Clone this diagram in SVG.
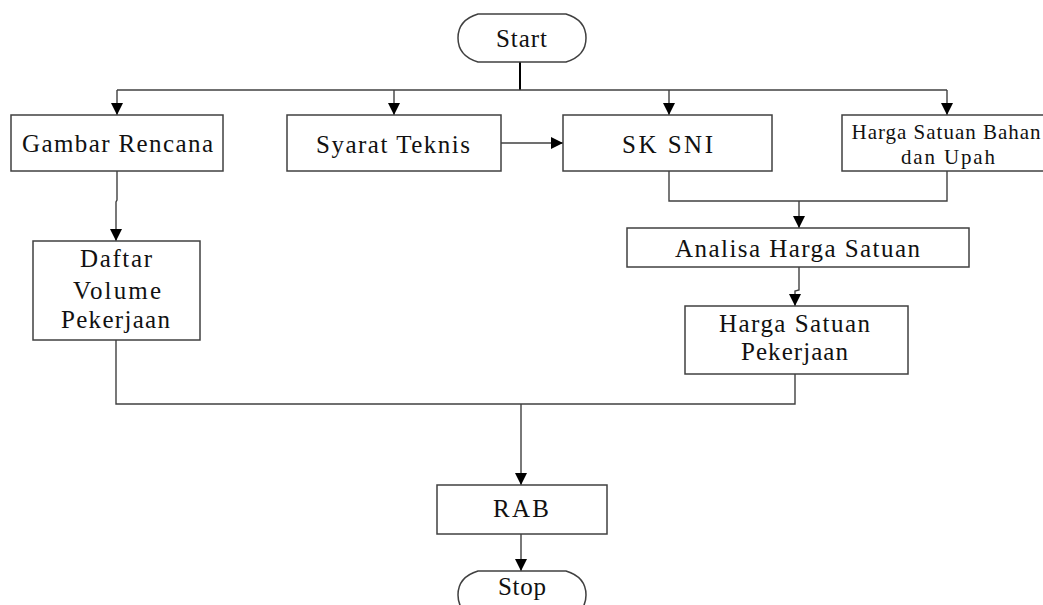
<svg xmlns="http://www.w3.org/2000/svg" width="1043" height="605" viewBox="0 0 1043 605">
<style>
.box{fill:#fff;stroke:#404040;stroke-width:1.5}
.t{font-family:"Liberation Serif","Times New Roman",serif;font-size:25px;fill:#111;text-anchor:middle}
.s{font-size:21px}
.c{fill:none;stroke:#404040;stroke-width:1.4}
</style>
<defs>
<marker id="ah" markerUnits="userSpaceOnUse" markerWidth="12" markerHeight="12" refX="12" refY="6" orient="auto">
<path d="M0,0 L12,6 L0,12 Z" fill="#000"/>
</marker>
</defs>
<rect width="1043" height="605" fill="#fff"/>
<g id="connectors">
<line class="c" x1="520" y1="62" x2="520" y2="90" style="stroke:#000;stroke-width:2"/>
<line class="c" x1="117" y1="90" x2="947" y2="90"/>
<line class="c" x1="117" y1="90" x2="117" y2="115" marker-end="url(#ah)"/>
<line class="c" x1="394" y1="90" x2="394" y2="115" marker-end="url(#ah)"/>
<line class="c" x1="669" y1="90" x2="669" y2="115" marker-end="url(#ah)"/>
<line class="c" x1="947" y1="90" x2="947" y2="115" marker-end="url(#ah)"/>
<line class="c" x1="501" y1="143" x2="563" y2="143" marker-end="url(#ah)"/>
<polyline class="c" points="117,171 117,200 116,202 116,241" marker-end="url(#ah)"/>
<polyline class="c" points="669,171 669,201 947,201 947,171"/>
<line class="c" x1="799" y1="201" x2="799" y2="228" marker-end="url(#ah)"/>
<polyline class="c" points="799,267 799,290 795,291 795,306" marker-end="url(#ah)"/>
<polyline class="c" points="116,340 116,404 795,404 795,374"/>
<line class="c" x1="521" y1="404" x2="521" y2="485" marker-end="url(#ah)"/>
<line class="c" x1="521" y1="534" x2="521" y2="571" marker-end="url(#ah)"/>
</g>
<g id="start">
<path class="box" d="M478,14 L566,14 Q586,20 586,38 Q586,56 566,62 L478,62 Q458,56 458,38 Q458,20 478,14 Z"/>
<text class="t" x="521.5" y="47" textLength="51" lengthAdjust="spacing">Start</text>
</g>
<g id="gambar-rencana">
<rect class="box" x="11" y="115" width="212" height="56"/>
<text class="t" x="117.5" y="152" textLength="191" lengthAdjust="spacing">Gambar Rencana</text>
</g>
<g id="syarat-teknis">
<rect class="box" x="287" y="115" width="214" height="56"/>
<text class="t" x="393" y="153" textLength="154" lengthAdjust="spacing">Syarat Teknis</text>
</g>
<g id="sk-sni">
<rect class="box" x="563" y="115" width="209" height="56"/>
<text class="t" x="667.5" y="153" textLength="91" lengthAdjust="spacing">SK SNI</text>
</g>
<g id="harga-satuan-bahan">
<rect class="box" x="842" y="115" width="210" height="56"/>
<text class="t s" x="946" y="139" textLength="189" lengthAdjust="spacing">Harga Satuan Bahan</text>
<text class="t s" x="948" y="164" textLength="94" lengthAdjust="spacing">dan Upah</text>
</g>
<g id="daftar-volume">
<rect class="box" x="33" y="241" width="167" height="99"/>
<text class="t" x="116" y="267" textLength="72" lengthAdjust="spacing">Daftar</text>
<text class="t" x="117" y="299" textLength="88" lengthAdjust="spacing">Volume</text>
<text class="t" x="115.5" y="328" textLength="109" lengthAdjust="spacing">Pekerjaan</text>
</g>
<g id="analisa-harga-satuan">
<rect class="box" x="627" y="228" width="342" height="39"/>
<text class="t" x="797.5" y="257" textLength="245" lengthAdjust="spacing">Analisa Harga Satuan</text>
</g>
<g id="harga-satuan-pekerjaan">
<rect class="box" x="685" y="306" width="223" height="68"/>
<text class="t" x="794.5" y="332" textLength="151" lengthAdjust="spacing">Harga Satuan</text>
<text class="t" x="794.5" y="360" textLength="107" lengthAdjust="spacing">Pekerjaan</text>
</g>
<g id="rab">
<rect class="box" x="437" y="485" width="170" height="49"/>
<text class="t" x="521" y="517" textLength="56" lengthAdjust="spacing">RAB</text>
</g>
<g id="stop">
<path class="box" d="M478,571 L566,571 Q586,577 586,595 Q586,613 566,619 L478,619 Q458,613 458,595 Q458,577 478,571 Z"/>
<text class="t" x="522" y="595" textLength="48" lengthAdjust="spacing">Stop</text>
</g>
</svg>
